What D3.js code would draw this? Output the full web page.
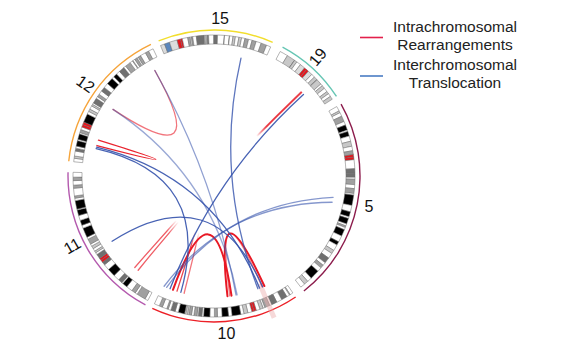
<!DOCTYPE html>
<html><head><meta charset="utf-8">
<script src="https://cdn.jsdelivr.net/npm/d3@7"></script>
<style>body{margin:0;background:#fff}svg{display:block}text{font-family:"Liberation Sans",Arial,sans-serif}</style>
</head><body><svg id="c" width="580" height="360"></svg>
<script>
// ---- data ----
const chromosomes = ["15", "19", "5", "10", "11", "12"];
const chromLengths = [102.5, 59.1, 180.9, 135.5, 135.0, 133.9]; // Mb

const bands15 = [[0,3.9,"gvar"],[3.9,8.7,"stalk"],[8.7,15.8,"gvar"],[15.8,19,"acen"],[19,20.7,"acen"],[20.7,25.7,"gneg"],[25.7,28,"gpos50"],[28,29.1,"gneg"],[29.1,30.3,"gpos50"],[30.3,33.6,"gneg"],[33.6,40.7,"gpos75"],[40.7,41.4,"gneg"],[41.4,42.7,"gpos25"],[42.7,43.6,"gneg"],[43.6,44.8,"gpos75"],[44.8,49.5,"gneg"],[49.5,52.9,"gpos75"],[52.9,59.1,"gneg"],[59.1,59.3,"gpos25"],[59.3,63.7,"gneg"],[63.7,63.9,"gpos25"],[63.9,67,"gneg"],[67,69.2,"gpos25"],[69.2,72.4,"gneg"],[72.4,74.9,"gpos25"],[74.9,78,"gneg"],[78,81.4,"gpos50"],[81.4,84.7,"gneg"],[84.7,88.5,"gpos50"],[88.5,93.3,"gneg"],[93.3,98.5,"gpos50"],[98.5,102.5,"gneg"]];
const bands19 = [[0,6.9,"gneg"],[6.9,13.9,"gpos25"],[13.9,14,"gneg"],[14,16.3,"gpos25"],[16.3,20,"gneg"],[20,24.4,"gvar"],[24.4,26.5,"acen"],[26.5,28.6,"acen"],[28.6,32.4,"gvar"],[32.4,35.5,"gneg"],[35.5,38.3,"gpos25"],[38.3,38.7,"gneg"],[38.7,43.4,"gpos25"],[43.4,45.2,"gneg"],[45.2,48,"gpos25"],[48,51.4,"gneg"],[51.4,53.6,"gpos25"],[53.6,56.3,"gneg"],[56.3,59.1,"gpos25"]];
const bands5 = [[0,4.5,"gneg"],[4.5,6.3,"gpos25"],[6.3,9.8,"gneg"],[9.8,15,"gpos50"],[15,18.4,"gneg"],[18.4,23.3,"gpos100"],[23.3,24.6,"gneg"],[24.6,28.9,"gpos100"],[28.9,33.8,"gneg"],[33.8,38.4,"gpos25"],[38.4,42.5,"gneg"],[42.5,46.1,"gpos50"],[46.1,48.4,"acen"],[48.4,50.7,"acen"],[50.7,58.9,"gneg"],[58.9,62.9,"gpos75"],[62.9,63.2,"gneg"],[63.2,66.7,"gpos75"],[66.7,68.4,"gneg"],[68.4,73.3,"gpos50"],[73.3,76.9,"gneg"],[76.9,81.4,"gpos50"],[81.4,82.8,"gneg"],[82.8,92.3,"gpos100"],[92.3,98.2,"gneg"],[98.2,102.8,"gpos100"],[102.8,104.5,"gneg"],[104.5,109.6,"gpos100"],[109.6,111.5,"gneg"],[111.5,113.1,"gpos50"],[113.1,115.2,"gneg"],[115.2,121.4,"gpos100"],[121.4,127.3,"gneg"],[127.3,130.6,"gpos100"],[130.6,136.2,"gneg"],[136.2,139.5,"gpos25"],[139.5,144.5,"gneg"],[144.5,149.8,"gpos75"],[149.8,152.7,"gneg"],[152.7,155.7,"gpos50"],[155.7,159.9,"gneg"],[159.9,168.5,"gpos100"],[168.5,172.8,"gneg"],[172.8,176.6,"gpos25"],[176.6,180.9,"gneg"]];
const bands10 = [[0,3,"gneg"],[3,3.8,"gpos25"],[3.8,6.6,"gneg"],[6.6,12.2,"gpos75"],[12.2,17.3,"gneg"],[17.3,18.6,"gpos75"],[18.6,18.7,"gneg"],[18.7,22.6,"gpos75"],[22.6,24.6,"gneg"],[24.6,29.6,"gpos50"],[29.6,31.3,"gneg"],[31.3,34.4,"gpos25"],[34.4,38,"gneg"],[38,40.2,"acen"],[40.2,42.3,"acen"],[42.3,46.1,"gneg"],[46.1,49.9,"gpos25"],[49.9,52.9,"gneg"],[52.9,61.2,"gpos100"],[61.2,64.5,"gneg"],[64.5,70.6,"gpos100"],[70.6,74.9,"gneg"],[74.9,77.7,"gpos50"],[77.7,82,"gneg"],[82,87.9,"gpos100"],[87.9,89.5,"gneg"],[89.5,92.9,"gpos75"],[92.9,94.1,"gneg"],[94.1,97,"gpos50"],[97,99.3,"gneg"],[99.3,101.9,"gpos50"],[101.9,103,"gneg"],[103,104.9,"gpos25"],[104.9,105.8,"gneg"],[105.8,111.9,"gpos100"],[111.9,114.9,"gneg"],[114.9,119.1,"gpos75"],[119.1,121.7,"gneg"],[121.7,123.1,"gpos50"],[123.1,127.5,"gneg"],[127.5,130.6,"gpos50"],[130.6,135.5,"gneg"]];
const bands11 = [[0,2.8,"gneg"],[2.8,10.7,"gpos50"],[10.7,12.7,"gneg"],[12.7,16.2,"gpos50"],[16.2,21.7,"gneg"],[21.7,26.1,"gpos100"],[26.1,27.2,"gneg"],[27.2,31,"gpos75"],[31,36.4,"gneg"],[36.4,43.5,"gpos100"],[43.5,48.8,"gneg"],[48.8,51.6,"gpos75"],[51.6,53.7,"acen"],[53.7,55.7,"acen"],[55.7,59.9,"gpos75"],[59.9,61.7,"gneg"],[61.7,63.4,"gpos25"],[63.4,65.9,"gneg"],[65.9,68.4,"gpos25"],[68.4,70.4,"gneg"],[70.4,75.2,"gpos50"],[75.2,77.1,"gneg"],[77.1,85.6,"gpos100"],[85.6,88.3,"gneg"],[88.3,92.8,"gpos100"],[92.8,97.2,"gneg"],[97.2,102.1,"gpos100"],[102.1,102.9,"gneg"],[102.9,110.4,"gpos100"],[110.4,112.5,"gneg"],[112.5,114.5,"gpos50"],[114.5,121.2,"gneg"],[121.2,123.9,"gpos50"],[123.9,127.8,"gneg"],[127.8,130.8,"gpos50"],[130.8,135,"gneg"]];
const bands12 = [[0,3.3,"gneg"],[3.3,5.4,"gpos25"],[5.4,10.1,"gneg"],[10.1,12.8,"gpos75"],[12.8,14.8,"gneg"],[14.8,20,"gpos100"],[20,21.3,"gneg"],[21.3,26.5,"gpos100"],[26.5,27.8,"gneg"],[27.8,30.7,"gpos50"],[30.7,33.3,"gneg"],[33.3,35.8,"acen"],[35.8,38.2,"acen"],[38.2,46.4,"gpos100"],[46.4,49.1,"gneg"],[49.1,51.5,"gpos25"],[51.5,54.9,"gneg"],[54.9,56.6,"gpos25"],[56.6,58.1,"gneg"],[58.1,63.1,"gpos75"],[63.1,65.1,"gneg"],[65.1,67.7,"gpos50"],[67.7,71.5,"gneg"],[71.5,75.7,"gpos75"],[75.7,80.3,"gneg"],[80.3,86.7,"gpos100"],[86.7,89,"gneg"],[89,92.6,"gpos100"],[92.6,96.2,"gneg"],[96.2,101.6,"gpos75"],[101.6,103.8,"gneg"],[103.8,109,"gpos50"],[109,111.7,"gneg"],[111.7,112.3,"gpos25"],[112.3,114.3,"gneg"],[114.3,116.8,"gpos50"],[116.8,118.1,"gneg"],[118.1,120.7,"gpos50"],[120.7,125.9,"gneg"],[125.9,129.3,"gpos50"],[129.3,133.9,"gneg"]];
const bandsByChrom = {"15": bands15, "19": bands19, "5": bands5, "10": bands10, "11": bands11, "12": bands12};

// links: [chr1, start1, end1, chr2, start2, end2, alphaStart, alphaMid, alphaEnd]
const intraLinks = [
  ["12", 63.1, 63.1, "12", 125.5, 125.5, 0.6, 0.6, 0.6],
  ["12", 26.1, 26.1, "12", 20.1, 20.1, 0.95, 0.95, 0.95],
  ["10", 123.6, 123.6, "10", 59.0, 59.0, 1, 1, 1],
  ["10", 63.4, 63.4, "10", 21.6, 21.6, 1, 1, 1],
  ["10", 60.9, 60.9, "10", 24.1, 24.1, 0.55, 0.55, 0.55],
  ["10", 119.0, 119.0, "15", 77.5, 77.5, 0.8, 0, 0],
  ["10", 110.9, 110.9, "15", 73.0, 73.0, 0.6, 0, 0],
  ["19", 36.7, 37.5, "11", 27.4, 23.0, 0.75, 0, 0.7]
];
const interLinks = [
  ["15", 78.4, 78.4, "10", 29.2, 29.2, 0.8, 0.8, 0.8],
  ["19", 40.1, 40.1, "10", 127.0, 127.0, 0.9, 0.9, 0.9],
  ["12", 63.1, 63.1, "10", 52.8, 52.8, 0.5, 0.5, 0.5],
  ["12", 125.5, 125.5, "10", 54.0, 54.0, 0.55, 0.55, 0.55],
  ["12", 18.3, 18.3, "10", 27.3, 27.3, 0.9, 0.9, 0.9],
  ["12", 16.5, 16.5, "10", 114.6, 114.6, 0.9, 0.9, 0.9],
  ["11", 62.5, 62.5, "10", 23.7, 23.7, 0.9, 0.9, 0.9],
  ["5", 88.0, 93.3, "10", 131.0, 134.0, 0.6, 0.6, 0.6]
];
const highlights = [["10", 25.3]];
const legendItems = [["Intrachromosomal", "Rearrangements"], ["Interchromosomal", "Translocation"]];

// ---- layout / style ----
const cx = 214, cy = 176, rIn = 132, rOut = 141, rLink = 121, rTrack = 146, rLabel = 158;
const chromStartAngle = [-22.3, 28, 60.5, 146, 208, 275.8];
const chromEndAngle = [23.7, 57, 142, 205, 271.5, 334.4];
const chromColor = d3.scaleOrdinal(chromosomes, ["#f2de2c", "#66c6b4", "#8c1c4c", "#ec2027", "#b45aae", "#f6a43a"]);
const labelRotation = {"15": 0, "19": -50, "5": 0, "10": 0, "11": -30, "12": 35};
const labelShift = {"15": 1.5, "19": -1.4, "5": 0, "10": 0, "11": 4, "12": 0.5};
const bezierRadius = {"5-10": 30}; // control point radius for links between chromosome pairs (default: centre)
const bandColor = {gneg: "#ffffff", gpos25: "#c8c8c8", gpos50: "#a0a0a0", gpos75: "#707070", gpos100: "#000000", gvar: "#dcdcdc", stalk: "#5a86bd", acen: "#e8141c"};
const linkColor = {intra: "rgb(232,24,36)", inter: "rgb(52,82,172)"};

const angleScale = {};
chromosomes.forEach((c, i) => {
  angleScale[c] = d3.scaleLinear().domain([0, chromLengths[i]]).range([chromStartAngle[i], chromEndAngle[i]]);
});
const ang = (c, mb) => angleScale[c](mb);
const rad = d => d * Math.PI / 180;
const pt = (r, a) => [cx + r * Math.sin(rad(a)), cy - r * Math.cos(rad(a))];

const svg = d3.select("#c");
const defs = svg.append("defs");
const g = svg.append("g");

// ideogram bands
const bandArc = d3.arc().innerRadius(rIn).outerRadius(rOut);
chromosomes.forEach((c, i) => {
  const gc = g.append("g").attr("transform", `translate(${cx},${cy})`);
  gc.selectAll("path.band").data(bandsByChrom[c]).join("path")
    .attr("d", d => bandArc({startAngle: rad(ang(c, d[0])), endAngle: rad(ang(c, d[1]))}))
    .attr("fill", d => bandColor[d[2]])
    .attr("stroke", "#6a6a6a").attr("stroke-width", 0.5);
  const len = chromLengths[i];
  gc.append("path")
    .attr("d", d3.arc().innerRadius(rTrack - 0.7).outerRadius(rTrack + 0.7)({startAngle: rad(ang(c, 0)), endAngle: rad(ang(c, len))}))
    .attr("fill", chromColor(c));
  const la = ang(c, len / 2) + labelShift[c];
  const [lx, ly] = pt(rLabel, la);
  g.append("text").attr("x", lx).attr("y", ly)
    .attr("text-anchor", "middle").attr("dominant-baseline", "central")
    .attr("transform", `rotate(${labelRotation[c]},${lx},${ly})`)
    .attr("font-size", 16).attr("fill", "#111").text(c);
});

// highlights
highlights.forEach(([c, mb]) => {
  const a = ang(c, mb);
  const p0 = pt(rLink - 4, a), p1 = pt(rTrack + 8, a);
  g.append("line").attr("x1", p0[0]).attr("y1", p0[1]).attr("x2", p1[0]).attr("y2", p1[1])
    .attr("stroke", "rgb(235,170,170)").attr("stroke-opacity", 0.45).attr("stroke-width", 5);
});

// links
let gid = 0;
function drawLink(row, type) {
  const [c1, s1, e1, c2, s2, e2, a0, am, a1] = row;
  const pairs = (s1 === e1 && s2 === e2) ? [[s1, s2]] : [[s1, s2], [e1, e2]];
  const br = bezierRadius[c1 + "-" + c2] || 0;
  pairs.forEach(([m1, m2]) => {
    const t1 = ang(c1, m1), t2 = ang(c2, m2);
    const p0 = pt(rLink, t1), p2 = pt(rLink, t2);
    const ctrl = pt(br, (t1 + t2) / 2);
    const path = g.append("path")
      .attr("d", `M${p0[0]},${p0[1]} Q${ctrl[0]},${ctrl[1]} ${p2[0]},${p2[1]}`)
      .attr("fill", "none")
      .attr("stroke-width", (a0 >= 0.99 && type === "intra") ? 2 : 1.3)
      .attr("stroke-linecap", "round");
    if (a0 === am && am === a1) {
      path.attr("stroke", linkColor[type]).attr("stroke-opacity", a0);
    } else {
      const id = "lg" + (gid++);
      const lg = defs.append("linearGradient").attr("id", id).attr("gradientUnits", "userSpaceOnUse")
        .attr("x1", p0[0]).attr("y1", p0[1]).attr("x2", p2[0]).attr("y2", p2[1]);
      [[0, a0], [0.2, a0], [0.26, am], [0.74, am], [0.8, a1], [1, a1]].forEach(([o, a]) =>
        lg.append("stop").attr("offset", o).attr("stop-color", linkColor[type]).attr("stop-opacity", a));
      path.attr("stroke", `url(#${id})`);
    }
  });
}
intraLinks.forEach(r => drawLink(r, "intra"));
interLinks.forEach(r => drawLink(r, "inter"));

// legend
const legColors = ["#e3204c", "#4a7cc4"];
const leg = svg.append("g");
legendItems.forEach((lines, i) => {
  const y0 = 31.5 + i * 38.5;
  leg.append("line").attr("x1", 360).attr("x2", 383).attr("y1", y0 + 6).attr("y2", y0 + 6)
    .attr("stroke", legColors[i]).attr("stroke-width", 1.6);
  lines.forEach((t, j) => {
    leg.append("text").attr("x", 455).attr("y", y0 + j * 18).attr("text-anchor", "middle")
      .attr("font-size", 15.5).attr("fill", "#222").text(t);
  });
});
</script></body></html>
